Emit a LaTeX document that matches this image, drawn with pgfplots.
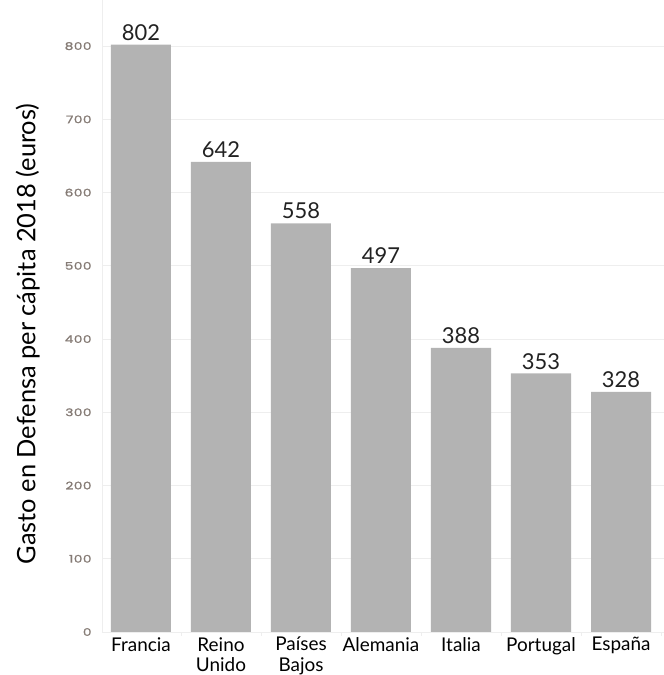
\documentclass[border=0pt]{standalone}
\usepackage{pgfplots}
\pgfplotsset{compat=1.18}
\usepackage{fontspec}
\setmainfont{Lato}
\newfontfamily\tickfont[FakeStretch=1.3,LetterSpace=5,FakeBold=1.6]{Poppins}

\definecolor{bargray}{HTML}{B3B3B3}
\definecolor{gridgray}{HTML}{EEEEEE}
\definecolor{tickgray}{HTML}{857B75}
\definecolor{valblack}{HTML}{222222}

\begin{document}
\begin{tikzpicture}
\begin{axis}[
  at={(0,0)}, anchor=south west,
  scale only axis, width=562bp, height=632bp,
  xmin=-0.4875, xmax=6.5375, ymin=0, ymax=863,
  ybar, bar width=60bp,
  axis x line*=bottom, axis y line*=left,
  axis line style={draw=gridgray, line width=0.8pt},
  ymajorgrids, grid style={draw=gridgray, line width=0.8pt},
  ytick={0,100,...,800},
  /pgf/number format/assume math mode=true,
  yticklabel style={font=\tickfont\fontsize{10.5}{10.5}\selectfont, text=tickgray, xshift=-7bp},
  major tick length=0pt,
  xtick={0,...,6},
  xticklabels={Francia,{Reino\\Unido},{Países\\Bajos},Alemania,Italia,Portugal,España},
  xticklabel style={align=center, font=\fontsize{19}{21}\selectfont, text=black, anchor=north, inner sep=0pt, yshift=-5bp},
  minor xtick={-0.5,0.5,...,6.5},
  minor tick length=4bp, tick align=outside,
  minor tick style={draw=gridgray, line width=0.8pt},
  nodes near coords,
  nodes near coords style={font=\fontsize{22}{22}\selectfont, text=valblack, anchor=south, inner sep=0pt, yshift=4bp},
  ylabel={Gasto en Defensa per cápita 2018 (euros)},
  ylabel style={at={(axis description cs:0,0.4715)}, anchor=south, yshift=62bp, font=\fontsize{25.5}{25.5}\selectfont, inner sep=0pt},
]
\addplot[fill=bargray, draw=none] coordinates {
  (0,802) (1,642) (2,558) (3,497) (4,388) (5,353) (6,328)
};
\end{axis}
\pgfresetboundingbox
\path (-102bp,-43bp) rectangle (562bp,632bp);
\end{tikzpicture}
\end{document}
